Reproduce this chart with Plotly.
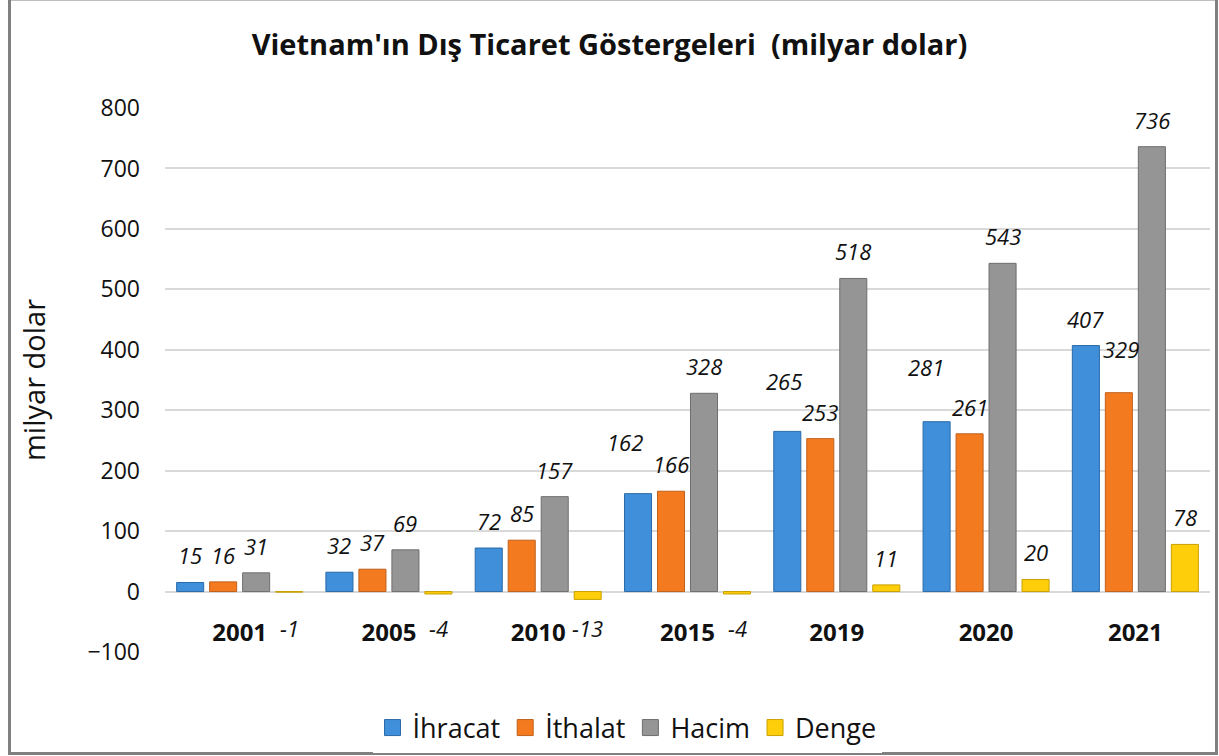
import plotly.graph_objects as go

years = ["2001", "2005", "2010", "2015", "2019", "2020", "2021"]
series_names = ["İhracat", "İthalat", "Hacim", "Denge"]
ihracat = [15, 32, 72, 162, 265, 281, 407]
ithalat = [16, 37, 85, 166, 253, 261, 329]
hacim = [31, 69, 157, 328, 518, 543, 736]
denge = [-1, -4, -13, -4, 11, 20, 78]
y_ticks = [-100, 0, 100, 200, 300, 400, 500, 600, 700, 800]

series_values = [ihracat, ithalat, hacim, denge]
colors = ["#3F8FDA", "#F47A20", "#959595", "#FFCE0A"]
edge_colors = ["#2A6AA8", "#C0601A", "#6E6E6E", "#C9A000"]

# manual label nudges (pixels) for labels moved in the original chart
label_nudge = {(0, 3): (-13, 25), (0, 4): (-3, 23), (0, 5): (-11, 28), (1, 6): (2, 17)}

FONT = "Open Sans"
W, H = 1219, 756
L, R, T, B = 165, 9, 108, 104
pw, ph = W - L - R, H - T - B

fig = go.Figure()
for i, (name, vals) in enumerate(zip(series_names, series_values)):
    fig.add_trace(go.Bar(
        x=years, y=vals, name=name, showlegend=False,
        marker=dict(color=colors[i], line=dict(color=edge_colors[i], width=1)),
    ))
# legend entries with larger square keys
for i, name in enumerate(series_names):
    fig.add_trace(go.Scatter(
        x=[None], y=[None], mode="markers", name=name,
        marker=dict(symbol="square", size=16, color=colors[i], line=dict(color=edge_colors[i], width=1)),
    ))

slot = 33
annotations = []
for i, vals in enumerate(series_values):
    for j, v in enumerate(vals):
        dx, dy = label_nudge.get((i, j), (0, 0))
        if v >= 0:
            yv, ys = v, 27 + dy
        else:
            yv, ys = 0, -36
        annotations.append(dict(
            x=j, y=yv, xref="x", yref="y", text=str(v), showarrow=False,
            xshift=(i - 1.5) * slot + dx, yshift=ys, yanchor="middle", xanchor="center",
            font=dict(family=FONT, size=22, color="#111111", style="italic"),
        ))

fig.update_layout(
    width=W, height=H,
    margin=dict(l=L, r=R, t=T, b=B, autoexpand=False),
    paper_bgcolor="white", plot_bgcolor="white",
    barmode="group", bargap=0.116, bargroupgap=0.18,
    title=dict(text="<b>Vietnam'ın Dış Ticaret Göstergeleri \u00a0(milyar dolar)</b>",
               x=0.5, xref="container", y=1 - 45 / H, yref="container", yanchor="middle",
               xanchor="center", font=dict(family=FONT, size=29, color="#111111")),
    font=dict(family=FONT, color="#111111"),
    xaxis=dict(type="category", range=[-0.5, 6.5], showgrid=False, showline=False, zeroline=False, ticks="",
               anchor="free", position=(652 - 616) / ph, automargin=False,
               tickfont=dict(family=FONT, size=24, color="#111111", weight="bold")),
    yaxis=dict(range=[-100, 800], tickvals=y_ticks, showgrid=True, gridcolor="#D9D9D9", gridwidth=1.5,
               zeroline=True, zerolinecolor="#D9D9D9", zerolinewidth=1.5, showline=False, automargin=False,
               tickfont=dict(family=FONT, size=23, color="#111111"), ticklabelstandoff=24,
               title=dict(text="milyar dolar", font=dict(family=FONT, size=29, color="#111111"), standoff=33)),
    legend=dict(orientation="h", x=(627 - L) / pw, xanchor="center", y=(652 - 728) / ph, yanchor="middle",
                font=dict(family=FONT, size=27, color="#111111"), traceorder="normal",
                itemsizing="trace"),
    annotations=annotations,
    shapes=[dict(type="rect", xref="paper", yref="paper",
                 x0=(9.5 - L) / pw, x1=(1216.5 - L) / pw,
                 y0=(T + ph - 753.5) / ph, y1=(T + ph + 1) / ph,
                 line=dict(color="#808080", width=3), layer="below")],
)

fig.write_html("out.html", config={"displayModeBar": False},
               post_script="document.body.style.margin='0';")
